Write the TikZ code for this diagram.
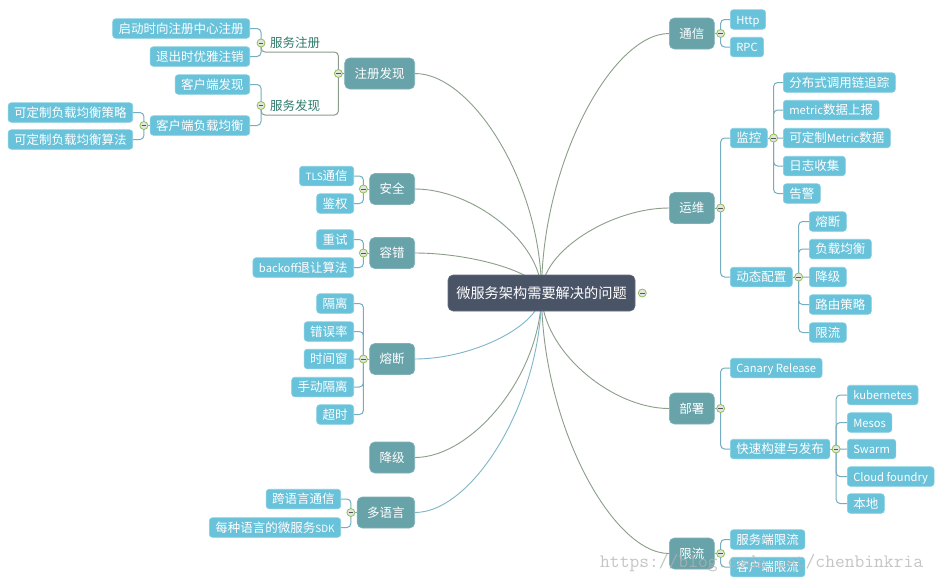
\documentclass[tikz,border=0pt]{standalone}
\usepackage{fontspec}
\setmainfont{Noto Sans CJK SC}
\newcommand\lt[1]{{\fontsize{11.2}{13}\selectfont #1}}
\newcommand\lts[1]{{\fontsize{10}{12}\selectfont #1}}
\definecolor{rootc}{HTML}{4A5467}
\definecolor{mainc}{HTML}{68A3AA}
\definecolor{subc}{HTML}{68C2DA}
\definecolor{lineA}{HTML}{8A9E8A}
\definecolor{lineB}{HTML}{74AEC0}
\definecolor{lineC}{HTML}{7DB6C8}
\definecolor{labelc}{HTML}{2E7A6A}
\definecolor{btngreen}{HTML}{8DC153}
\definecolor{btnfill}{HTML}{E4E4E4}
\definecolor{minusc}{HTML}{555555}
\pgfdeclarelayer{bg}
\pgfsetlayers{bg,main}
\begin{document}
\begin{tikzpicture}[x=1pt,y=-1pt,
  rootbox/.style={fill=rootc, draw=rootc!85!white, line width=0.6pt, rounded corners=5pt, text=white,
    font=\fontsize{14.2}{16}\selectfont, minimum width=187pt, minimum height=36pt, inner xsep=4pt,
    text height=12pt, text depth=1pt},
  mainbox/.style={fill=mainc, draw=mainc!85!white, line width=0.6pt, rounded corners=5pt, text=white,
    font=\fontsize{12.5}{14}\selectfont, minimum height=31pt, inner xsep=10pt, inner ysep=2pt,
    text height=10.5pt, text depth=1pt},
  subbox/.style={fill=subc, draw=subc!80!white, line width=0.6pt, rounded corners=3pt, text=white,
    font=\fontsize{12.5}{14}\selectfont, minimum height=19.5pt, inner xsep=6pt, inner ysep=1pt,
    text height=10.5pt, text depth=1pt},
  grouplabel/.style={text=labelc, font=\fontsize{12.5}{14}\selectfont, inner xsep=4pt, inner ysep=1pt,
    text height=10.5pt, text depth=1pt},
  rootline/.style={draw=lineA, line width=0.9pt},
  rootlineb/.style={draw=lineC, line width=0.9pt},
  subline/.style={draw=lineB, line width=1pt, rounded corners=4pt},
  grpline/.style={draw=lineA, line width=1pt, rounded corners=4pt},
  btn/.style={circle, draw=btngreen, fill=btnfill, line width=0.8pt, minimum size=8pt, inner sep=0pt,
    path picture={\draw[line width=1pt, minusc] ([xshift=-2.3pt]path picture bounding box.center) -- ([xshift=2.3pt]path picture bounding box.center);}},
  wmark/.style={text=black!30, opacity=0.75, font=\fontsize{19}{19}\ttfamily, inner sep=0pt}
]
\useasboundingbox (0,0) rectangle (941,581);
\begin{pgfonlayer}{bg}
\fill[white] (0,0) rectangle (941,581);
\end{pgfonlayer}

% ---------- nodes ----------
\node[rootbox] (root) at (541.5,293) {微服务架构需要解决的问题};

\node[mainbox, anchor=east] (zc) at (415,73.5) {注册发现};
\node[mainbox, anchor=east] (aq) at (415,189) {安全};
\node[mainbox, anchor=east] (rc) at (415,253) {容错};
\node[mainbox, anchor=east] (rd) at (415,359) {熔断};
\node[mainbox, anchor=east] (jj) at (415,457.5) {降级};
\node[mainbox, anchor=east] (dy) at (415,512.5) {多语言};

\node[mainbox, anchor=west] (tx) at (669,33.5) {通信};
\node[mainbox, anchor=west] (yw) at (669,208) {运维};
\node[mainbox, anchor=west] (bs) at (669,408.5) {部署};
\node[mainbox, anchor=west] (xl) at (669,553.5) {限流};

% left subtopics
\node[grouplabel, anchor=west] (fwzc) at (266,43) {服务注册};
\node[grouplabel, anchor=west] (fwfx) at (266,105.5) {服务发现};
\node[subbox, anchor=east] (zc1) at (250,28.5) {启动时向注册中心注册};
\node[subbox, anchor=east] (zc2) at (250,56.5) {退出时优雅注销};
\node[subbox, anchor=east] (fx1) at (250,84.5) {客户端发现};
\node[subbox, anchor=east] (fx2) at (250,125.5) {客户端负载均衡};
\node[subbox, anchor=east] (lb1) at (133,112.5) {可定制负载均衡策略};
\node[subbox, anchor=east] (lb2) at (133,139.5) {可定制负载均衡算法};

\node[subbox, anchor=east] (aq1) at (354,176) {\lts{TLS}通信};
\node[subbox, anchor=east] (aq2) at (354,203.5) {鉴权};
\node[subbox, anchor=east] (rc1) at (354,239.5) {重试};
\node[subbox, anchor=east] (rc2) at (354,267.5) {\lt{backoff}退让算法};

\node[subbox, anchor=east] (rd1) at (354,303.5) {隔离};
\node[subbox, anchor=east] (rd2) at (354,331.5) {错误率};
\node[subbox, anchor=east] (rd3) at (354,359) {时间窗};
\node[subbox, anchor=east] (rd4) at (354,387) {手动隔离};
\node[subbox, anchor=east] (rd5) at (354,414.5) {超时};

\node[subbox, anchor=east] (dy1) at (341,499) {跨语言通信};
\node[subbox, anchor=east] (dy2) at (341,527.5) {每种语言的微服务\lts{SDK}};

% right subtopics
\node[subbox, anchor=west] (tx1) at (730,19.5) {\lt{Http}};
\node[subbox, anchor=west] (tx2) at (730,47) {\lt{RPC}};
\node[subbox, anchor=west] (jk) at (730,138) {监控};
\node[subbox, anchor=west] (dt) at (730,277) {动态配置};
\node[subbox, anchor=west] (jk1) at (783,82.5) {分布式调用链追踪};
\node[subbox, anchor=west] (jk2) at (783,110) {\lt{metric}数据上报};
\node[subbox, anchor=west] (jk3) at (783,138) {可定制\lt{Metric}数据};
\node[subbox, anchor=west] (jk4) at (783,166) {日志收集};
\node[subbox, anchor=west] (jk5) at (783,193.5) {告警};
\node[subbox, anchor=west] (dt1) at (809,221.5) {熔断};
\node[subbox, anchor=west] (dt2) at (809,249) {负载均衡};
\node[subbox, anchor=west] (dt3) at (809,277) {降级};
\node[subbox, anchor=west] (dt4) at (809,304.5) {路由策略};
\node[subbox, anchor=west] (dt5) at (809,332.5) {限流};

\node[subbox, anchor=west] (bs1) at (730,368) {\lt{Canary Release}};
\node[subbox, anchor=west] (ks) at (730,449) {快速构建与发布};
\node[subbox, anchor=west] (ks1) at (847,395) {\lt{kubernetes}};
\node[subbox, anchor=west] (ks2) at (847,422.5) {\lt{Mesos}};
\node[subbox, anchor=west] (ks3) at (847,449) {\lt{Swarm}};
\node[subbox, anchor=west] (ks4) at (847,476.5) {\lt{Cloud foundry}};
\node[subbox, anchor=west] (ks5) at (847,503.5) {本地};

\node[subbox, anchor=west] (xl1) at (730,539.5) {服务端限流};
\node[subbox, anchor=west] (xl2) at (730,567) {客户端限流};

% ---------- junctions ----------
\coordinate (jzc) at ([xshift=-6pt]zc.west);
\coordinate (jaq) at ([xshift=-6pt]aq.west);
\coordinate (jrc) at ([xshift=-6pt]rc.west);
\coordinate (jrd) at ([xshift=-6pt]rd.west);
\coordinate (jdy) at ([xshift=-6pt]dy.west);
\coordinate (jfx2) at ([xshift=-6pt]fx2.west);
\coordinate (jtx) at ([xshift=6pt]tx.east);
\coordinate (jyw) at ([xshift=6pt]yw.east);
\coordinate (jbs) at ([xshift=6pt]bs.east);
\coordinate (jxl) at ([xshift=6pt]xl.east);
\coordinate (jjk) at ([xshift=6pt]jk.east);
\coordinate (jdt) at ([xshift=6pt]dt.east);
\coordinate (jks) at ([xshift=6pt]ks.east);
\coordinate (jfwzc) at (261,43);
\coordinate (jfwfx) at (261,105.5);
\coordinate (ufwzc) at (261,52);
\coordinate (ufwfx) at (261,115);
\coordinate (jroot) at ([xshift=7pt]root.east);

% ---------- connectors (behind nodes) ----------
\begin{pgfonlayer}{bg}
% root curves
\draw[rootline]  (root.center) .. controls (541.5,183.25) and (472,73.5) .. (zc.east);
\draw[rootline]  (root.center) .. controls (541.5,241) and (472,189) .. (aq.east);
\draw[rootline]  (root.center) .. controls (541.5,273) and (472,253) .. (rc.east);
\draw[rootlineb] (root.center) .. controls (541.5,326) and (472,359) .. (rd.east);
\draw[rootline]  (root.center) .. controls (541.5,375.25) and (472,457.5) .. (jj.east);
\draw[rootlineb] (root.center) .. controls (541.5,402.75) and (472,512.5) .. (dy.east);
\draw[rootline]  (root.center) .. controls (541.5,163.25) and (612,33.5) .. (tx.west);
\draw[rootline]  (root.center) .. controls (541.5,250.5) and (612,208) .. (yw.west);
\draw[rootline]  (root.center) .. controls (541.5,350.75) and (612,408.5) .. (bs.west);
\draw[rootline]  (root.center) .. controls (541.5,423.25) and (612,553.5) .. (xl.west);

% 注册发现
\draw[grpline] (zc.west) -- (jzc);
\draw[grpline] (jzc) |- (ufwzc) -- (jfwzc);
\draw[grpline] (jzc) |- (ufwfx) -- (jfwfx);
\draw[subline] (jfwzc) |- (zc1.east);
\draw[subline] (jfwzc) |- (zc2.east);
\draw[subline] (jfwfx) |- (fx1.east);
\draw[subline] (jfwfx) |- (fx2.east);
\draw[subline] (fx2.west) -- (jfx2);
\draw[subline] (jfx2) |- (lb1.east);
\draw[subline] (jfx2) |- (lb2.east);
% 安全 / 容错 / 熔断 / 多语言
\draw[subline] (aq.west) -- (jaq);
\draw[subline] (jaq) |- (aq1.east);
\draw[subline] (jaq) |- (aq2.east);
\draw[subline] (rc.west) -- (jrc);
\draw[subline] (jrc) |- (rc1.east);
\draw[subline] (jrc) |- (rc2.east);
\draw[subline] (rd.west) -- (jrd);
\foreach \c in {rd1,rd2,rd3,rd4,rd5} \draw[subline] (jrd) |- (\c.east);
\draw[subline] (dy.west) -- (jdy);
\draw[subline] (jdy) |- (dy1.east);
\draw[subline] (jdy) |- (dy2.east);
% right side
\draw[subline] (tx.east) -- (jtx);
\draw[subline] (jtx) |- (tx1.west);
\draw[subline] (jtx) |- (tx2.west);
\draw[subline] (yw.east) -- (jyw);
\draw[subline] (jyw) |- (jk.west);
\draw[subline] (jyw) |- (dt.west);
\draw[subline] (jk.east) -- (jjk);
\foreach \c in {jk1,jk2,jk3,jk4,jk5} \draw[subline] (jjk) |- (\c.west);
\draw[subline] (dt.east) -- (jdt);
\foreach \c in {dt1,dt2,dt3,dt4,dt5} \draw[subline] (jdt) |- (\c.west);
\draw[subline] (bs.east) -- (jbs);
\draw[subline] (jbs) |- (bs1.west);
\draw[subline] (jbs) |- (ks.west);
\draw[subline] (ks.east) -- (jks);
\foreach \c in {ks1,ks2,ks3,ks4,ks5} \draw[subline] (jks) |- (\c.west);
\draw[subline] (xl.east) -- (jxl);
\draw[subline] (jxl) |- (xl1.west);
\draw[subline] (jxl) |- (xl2.west);
\end{pgfonlayer}

% ---------- buttons ----------
\foreach \j in {jzc,jaq,jrc,jrd,jdy,jfx2,jtx,jyw,jbs,jxl,jjk,jdt,jks,jfwzc,jfwfx,jroot}
  \node[btn] (b\j) at (\j) {};

\node[wmark, anchor=base west] (wm) at (600,567) {https://blog.csdn.net/chenbinkria};
\end{tikzpicture}
\end{document}
